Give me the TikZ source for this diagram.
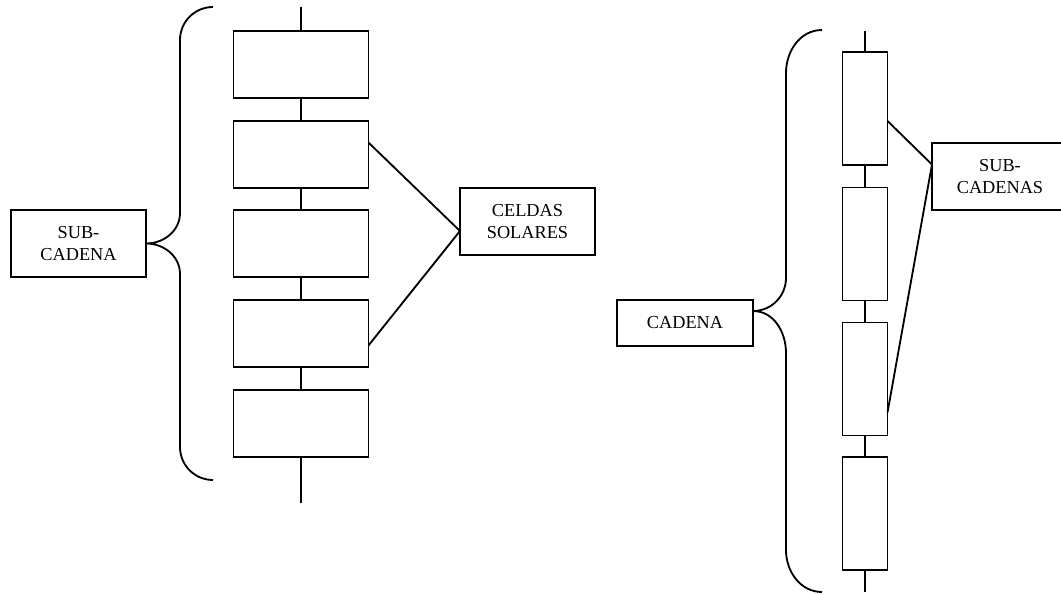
\documentclass[tikz,border=0pt]{standalone}
\usepackage{fontspec}
\setmainfont{Liberation Serif}
\begin{document}
\begin{tikzpicture}[x=0.025cm,y=0.025cm,line width=1.3pt,
  celda/.style={draw,inner sep=0pt,outer sep=0pt,minimum width=3.375cm,minimum height=1.675cm},
  subcad/.style={draw,inner sep=0pt,outer sep=0pt,minimum width=1.125cm,minimum height=2.825cm},
  rotulo/.style={draw,inner sep=0pt,outer sep=0pt,align=center,font=\fontsize{13}{15.6}\selectfont}]
\clip (0,0) rectangle (1061,594);
% sub-cadena de celdas
\draw (301,587) coordinate (Ltop);
\draw (301,91) coordinate (Lbot);
\draw (301,529.5) node[celda] (C1) {};
\draw (301,439.5) node[celda] (C2) {};
\draw (301,350.5) node[celda] (C3) {};
\draw (301,260.5) node[celda] (C4) {};
\draw (301,170.5) node[celda] (C5) {};
\draw (Ltop) -- (C1) -- (C2) -- (C3) -- (C4) -- (C5) -- (Lbot);
\draw (78.5,350.5) node[rotulo,minimum width=3.375cm,minimum height=1.675cm] (Sub) {SUB-\\CADENA};
\draw (527.5,372.5) node[rotulo,minimum width=3.375cm,minimum height=1.675cm] (Celdas) {CELDAS\\SOLARES};
\draw (C2.10) -- (Celdas.188) -- (C4.-10);
% llave izquierda
\draw (213,587) coordinate (LBa);
\draw (213,114) coordinate (LBb);
\draw (LBa) to[out=180,in=90] (180,554) -- (180,381) to[out=-90,in=0] (Sub.east)
  to[out=0,in=90] (180,320) -- (180,147) to[out=-90,in=180] (LBb);

% cadena de sub-cadenas
\draw (865,563) coordinate (Rtop);
\draw (865,2) coordinate (Rbot);
\draw (865,485.5) node[subcad] (S1) {};
\draw (865,350) node[subcad] (S2) {};
\draw (865,215) node[subcad] (S3) {};
\draw (865,80.5) node[subcad] (S4) {};
\draw (Rtop) -- (S1) -- (S2) -- (S3) -- (S4) -- (Rbot);
\draw (685,271) node[rotulo,minimum width=3.4cm,minimum height=1.15cm] (Cadena) {CADENA};
\draw (1000,417.5) node[rotulo,minimum width=3.4cm,minimum height=1.675cm] (SubCad) {SUB-\\CADENAS};
\draw (S1.-29) -- (SubCad.170) -- (S3.-56);
% llave derecha
\draw (822,564) coordinate (RBa);
\draw (822,2) coordinate (RBb);
\draw (RBa) to[out=180,in=90] (786,521) -- (786,316) to[out=-90,in=0] (Cadena.10)
  to[out=0,in=90] (786,241) -- (786,44) to[out=-90,in=180] (RBb);
\end{tikzpicture}
\end{document}
